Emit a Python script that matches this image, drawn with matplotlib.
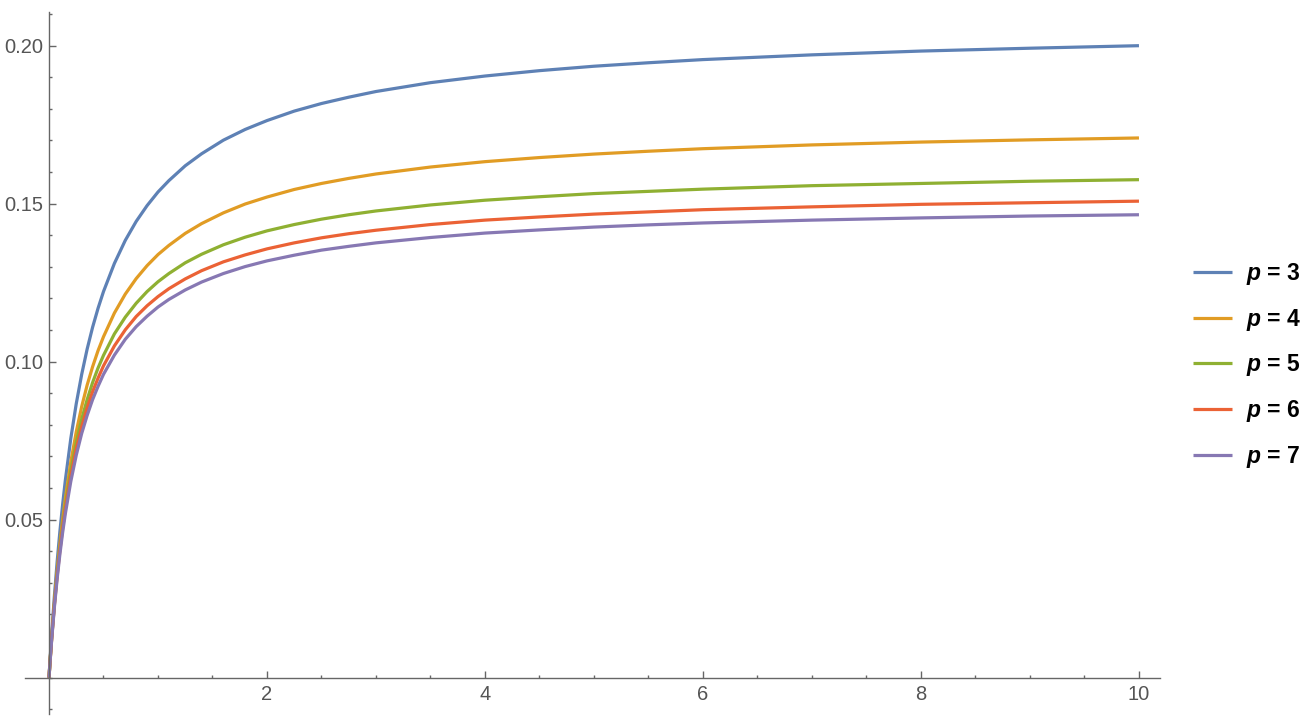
import numpy as np
import matplotlib
matplotlib.use("Agg")
import matplotlib.pyplot as plt

plt.rcParams['font.family'] = ['Liberation Sans', 'DejaVu Sans']
plt.rcParams['mathtext.fontset'] = 'custom'
plt.rcParams['mathtext.it'] = 'Liberation Sans:italic:bold'

# values
x_vals = [0, 0.01, 0.025, 0.05, 0.075, 0.1, 0.125, 0.15, 0.2, 0.25, 0.3,
          0.35, 0.4, 0.45, 0.5, 0.6, 0.7, 0.8, 0.9, 1.0, 1.1, 1.25, 1.4,
          1.6, 1.8, 2.0, 2.25, 2.5, 2.75, 3.0, 3.5, 4, 4.5, 5, 5.5, 6, 7,
          8, 9, 10]
y_p3 = [0, 0.0058, 0.0139, 0.0261, 0.0368, 0.0463, 0.0548, 0.0625, 0.0757,
        0.0867, 0.0960, 0.1040, 0.1109, 0.1169, 0.1222, 0.1311, 0.1384,
        0.1444, 0.1494, 0.1537, 0.1573, 0.1620, 0.1658, 0.1701, 0.1735,
        0.1763, 0.1793, 0.1817, 0.1837, 0.1855, 0.1883, 0.1904, 0.1921,
        0.1935, 0.1946, 0.1956, 0.1971, 0.1983, 0.1992, 0.2000]
y_p4 = [0, 0.0054, 0.0129, 0.0241, 0.0338, 0.0423, 0.0499, 0.0567, 0.0683,
        0.0778, 0.0858, 0.0926, 0.0984, 0.1035, 0.1079, 0.1154, 0.1214,
        0.1263, 0.1304, 0.1339, 0.1368, 0.1406, 0.1437, 0.1471, 0.1499,
        0.1521, 0.1545, 0.1564, 0.1580, 0.1594, 0.1616, 0.1633, 0.1646,
        0.1657, 0.1666, 0.1674, 0.1686, 0.1695, 0.1702, 0.1708]
y_p5 = [0, 0.0053, 0.0127, 0.0235, 0.0329, 0.0411, 0.0483, 0.0547, 0.0656,
        0.0744, 0.0818, 0.0880, 0.0934, 0.0980, 0.1020, 0.1088, 0.1141,
        0.1185, 0.1222, 0.1253, 0.1279, 0.1313, 0.1340, 0.1370, 0.1394,
        0.1414, 0.1434, 0.1451, 0.1465, 0.1477, 0.1496, 0.1511, 0.1522,
        0.1532, 0.1539, 0.1546, 0.1557, 0.1564, 0.1571, 0.1576]
y_p6 = [0, 0.0052, 0.0125, 0.0231, 0.0322, 0.0402, 0.0472, 0.0534, 0.0638,
        0.0724, 0.0794, 0.0854, 0.0905, 0.0948, 0.0987, 0.1050, 0.1101,
        0.1143, 0.1177, 0.1206, 0.1231, 0.1262, 0.1288, 0.1316, 0.1338,
        0.1357, 0.1376, 0.1392, 0.1405, 0.1416, 0.1434, 0.1448, 0.1458,
        0.1467, 0.1474, 0.1481, 0.1490, 0.1498, 0.1503, 0.1508]
y_p7 = [0, 0.0051, 0.0122, 0.0225, 0.0314, 0.0391, 0.0459, 0.0519, 0.0621,
        0.0704, 0.0773, 0.0830, 0.0880, 0.0922, 0.0960, 0.1021, 0.1071,
        0.1111, 0.1144, 0.1173, 0.1197, 0.1227, 0.1252, 0.1279, 0.1301,
        0.1319, 0.1337, 0.1353, 0.1365, 0.1376, 0.1393, 0.1407, 0.1417,
        0.1426, 0.1433, 0.1439, 0.1448, 0.1455, 0.1461, 0.1465]

series = [y_p3, y_p4, y_p5, y_p6, y_p7]
labels = [r'$p$ = 3', r'$p$ = 4', r'$p$ = 5', r'$p$ = 6', r'$p$ = 7']
colors = ['#5E81B5', '#E19C24', '#8FB032', '#EB6235', '#8778B3']

y_major = [0.05, 0.10, 0.15, 0.20]
y_major_labels = ['0.05', '0.10', '0.15', '0.20']
x_major = [2, 4, 6, 8, 10]

axis_gray = '#666666'
label_gray = '#555555'

fig = plt.figure(figsize=(13.14, 7.18), dpi=100)
ax = fig.add_axes([25 / 1314, 4 / 718, 1135 / 1314, 702 / 718])

for ys, lab, col in zip(series, labels, colors):
    ax.plot(x_vals, ys, color=col, lw=2.3, label=lab, solid_capstyle='butt',
            solid_joinstyle='round')

ax.set_xlim(-0.2202, 10.193)
ax.set_ylim(-0.01149, 0.21066)

# axes through the origin, Mathematica style
for side in ['top', 'right']:
    ax.spines[side].set_visible(False)
for side in ['left', 'bottom']:
    ax.spines[side].set_position(('data', 0))
    ax.spines[side].set_color(axis_gray)
    ax.spines[side].set_linewidth(1.0)

ax.set_xticks(x_major)
ax.set_xticklabels([str(v) for v in x_major])
ax.set_xticks(np.arange(0.5, 10.01, 0.5), minor=True)
ax.set_yticks(y_major)
ax.set_yticklabels(y_major_labels)
ax.set_yticks(np.arange(-0.01, 0.2101, 0.01), minor=True)

ax.tick_params(which='both', direction='in', color=axis_gray, width=1.0,
               labelcolor=label_gray, labelsize=14.5)
ax.tick_params(which='major', length=5)
ax.tick_params(which='minor', length=2.3)
ax.tick_params(axis='y', which='major', pad=4.5)
ax.tick_params(axis='x', which='major', pad=5.5)

fig.legend(loc='center left', bbox_to_anchor=(1192.7 / 1314, 1 - 365.3 / 718),
           frameon=False, handlelength=1.7, handletextpad=0.62,
           labelspacing=0.86, borderpad=0, borderaxespad=0,
           prop={'weight': 'bold', 'size': 16.5})

fig.savefig('out.png', dpi=100)
